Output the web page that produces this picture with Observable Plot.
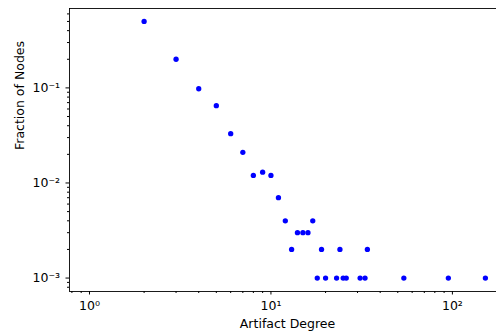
<!DOCTYPE html>
<html>
<head>
<meta charset="utf-8">
<script src="https://cdn.jsdelivr.net/npm/d3@7"></script>
<script src="https://cdn.jsdelivr.net/npm/@observablehq/plot@0.6"></script>
<style>
  html, body { margin: 0; padding: 0; background: white; }
</style>
</head>
<body>
<div id="chart"></div>
<script>
// Data
const degree = [2, 3, 4, 5, 6, 7, 8, 9, 10, 11, 12, 13, 14, 15, 16, 17, 18, 19, 20, 23, 24, 25, 26, 31, 33, 34, 54, 95, 152];
const fraction = [0.5, 0.2, 0.098, 0.065, 0.033, 0.021, 0.012, 0.013, 0.012, 0.007, 0.004, 0.002, 0.003, 0.003, 0.003, 0.004, 0.001, 0.002, 0.001, 0.001, 0.002, 0.001, 0.001, 0.001, 0.001, 0.002, 0.001, 0.001, 0.001];

const xDomain = [0.776, 175];
const yDomain = [0.000722, 0.684];
const xMajor = [1, 10, 100];
const yMajor = [0.001, 0.01, 0.1];
const xLabel = "Artifact Degree";
const yLabel = "Fraction of Nodes";

const data = degree.map((d, i) => ({degree: d, fraction: fraction[i]}));

const sup = {"-": "⁻", "0": "⁰", "1": "¹", "2": "²", "3": "³", "4": "⁴", "5": "⁵", "6": "⁶", "7": "⁷", "8": "⁸", "9": "⁹"};
const fmt = v => "10" + String(Math.round(Math.log10(v))).split("").map(c => sup[c]).join("");

function minorTicks([lo, hi]) {
  const out = [];
  for (let e = Math.floor(Math.log10(lo)); e <= Math.ceil(Math.log10(hi)); e++) {
    for (let m = 2; m <= 9; m++) {
      const v = m * Math.pow(10, e);
      if (v >= lo && v <= hi) out.push(v);
    }
  }
  return out;
}

const fs = 12.5;

const chart = Plot.plot({
  width: 496,
  height: 335,
  marginLeft: 69,
  marginRight: 0,
  marginTop: 8,
  marginBottom: 44,
  style: {fontFamily: "DejaVu Sans", fontSize: fs + "px", color: "black", background: "white"},
  x: {type: "log", domain: xDomain},
  y: {type: "log", domain: yDomain},
  marks: [
    Plot.axisX(xMajor, {tickSize: 3.5, tickPadding: 6, tickFormat: fmt, label: null, fontSize: fs}),
    Plot.axisX(minorTicks(xDomain), {tickSize: 2, tickFormat: () => "", label: null}),
    Plot.axisY(yMajor, {tickSize: 3.5, tickPadding: 6, tickFormat: fmt, label: null, fontSize: fs}),
    Plot.axisY(minorTicks(yDomain), {tickSize: 2, tickFormat: () => "", label: null}),
    Plot.ruleX([xDomain[0]], {stroke: "black", strokeWidth: 0.9}),
    Plot.ruleY([yDomain[0], yDomain[1]], {stroke: "black", strokeWidth: 0.9}),
    Plot.dot(data, {x: "degree", y: "fraction", r: 2.65, fill: "blue", stroke: null}),
    Plot.text([xLabel], {frameAnchor: "bottom", dx: 4.5, dy: 36, fontSize: fs, fill: "black"}),
    Plot.text([yLabel], {frameAnchor: "left", dx: -50, rotate: -90, fontSize: fs, fill: "black"})
  ]
});

document.getElementById("chart").appendChild(chart);
</script>
</body>
</html>
